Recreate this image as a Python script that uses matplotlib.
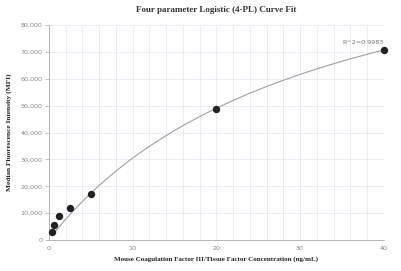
import numpy as np
import matplotlib
matplotlib.use("Agg")
import matplotlib.pyplot as plt
from matplotlib.ticker import FuncFormatter, MultipleLocator

# Data
conc = [0.3125, 0.625, 1.25, 2.5, 5, 20, 40]
mfi = [3000, 5600, 9000, 11800, 17200, 48800, 70600]
r2_label = "R^2=0.9983"
title = "Four parameter Logistic (4-PL) Curve Fit"
xlabel = "Mouse Coagulation Factor III/Tissue Factor Concentration (ng/mL)"
ylabel = "Median Fluorescence Intensity (MFI)"
# 4PL fit parameters (bottom, slope, inflection, top)
fit_a, fit_b, fit_c, fit_d = 300.0, 1.0, 32.0, 127000.0

fig = plt.figure(figsize=(4.01, 2.71), dpi=100)
ax = fig.add_axes([0.122, 0.114, 0.835, 0.794])

xs = np.linspace(conc[0] * 1.2, conc[-1], 300)
ys = fit_d + (fit_a - fit_d) / (1 + (xs / fit_c) ** fit_b)
ax.plot(xs, ys, color="#a0a0a0", lw=0.8, zorder=2)
ax.plot(conc, mfi, "o", color="#222222", ms=4.3, zorder=3, clip_on=False)
ax.text(conc[-1], mfi[-1] + 2000, r2_label, ha="right", va="bottom",
        fontsize=4.6, color="#777777", family="DejaVu Sans")

ax.set_xlim(0, 40)
ax.set_ylim(0, 80000)
ax.xaxis.set_major_locator(MultipleLocator(10))
ax.xaxis.set_minor_locator(MultipleLocator(2))
ax.yaxis.set_major_locator(MultipleLocator(10000))
ax.yaxis.set_major_formatter(FuncFormatter(lambda v, p: f"{int(v):,}"))
ax.grid(True, which="both", axis="x", color="#e8eaf4", lw=0.6)
ax.grid(True, which="major", axis="y", color="#e8eaf4", lw=0.6)
ax.set_axisbelow(True)
for s in ["top", "right"]:
    ax.spines[s].set_visible(False)
for s in ["left", "bottom"]:
    ax.spines[s].set_color("#aaaaaa")
    ax.spines[s].set_linewidth(0.6)
ax.tick_params(axis="both", which="both", labelsize=4.6, labelcolor="#888888",
               color="#aaaaaa", width=0.5)
ax.tick_params(axis="x", which="both", length=0, pad=4)
ax.tick_params(axis="y", which="major", length=3, pad=1.5)

ax.set_title(title, fontsize=6.5, fontweight="bold", family="Liberation Serif",
             color="#333333", pad=9)
ax.set_xlabel(xlabel, fontsize=5.0, fontweight="bold", family="Liberation Serif",
              color="#222222", labelpad=4)
ax.set_ylabel(ylabel, fontsize=5.3, fontweight="bold", family="Liberation Serif",
              color="#222222", labelpad=6)

fig.savefig("out.png", dpi=100)
